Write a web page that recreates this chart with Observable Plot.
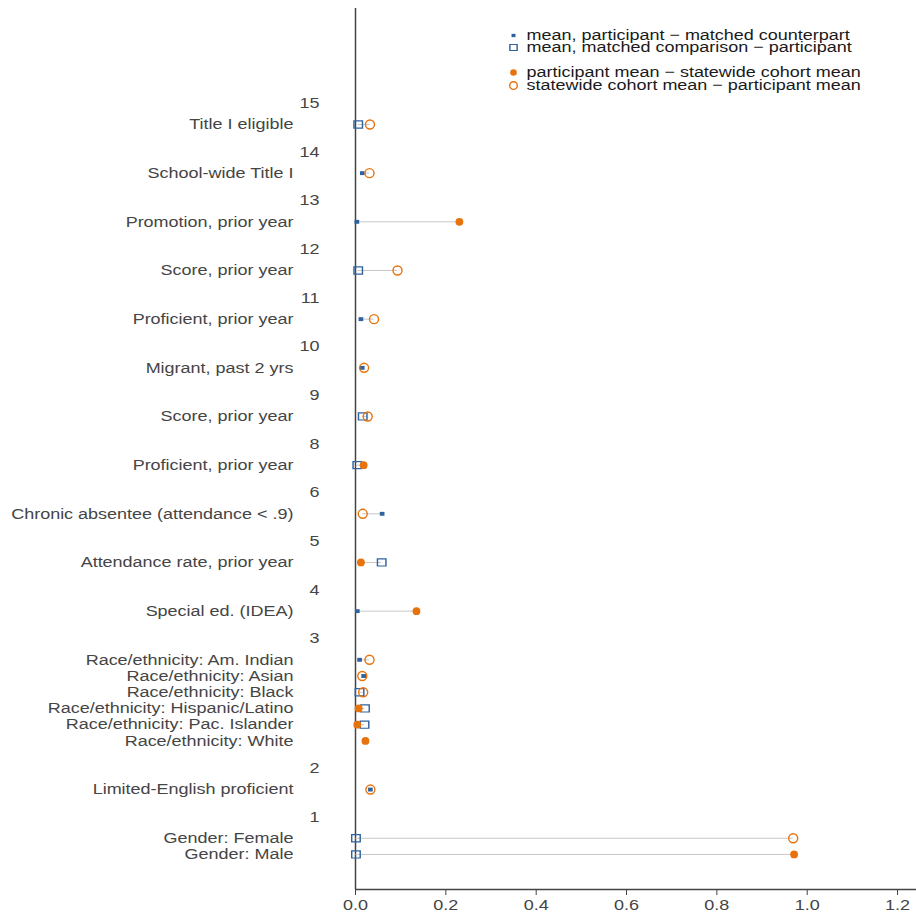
<!DOCTYPE html>
<html>
<head>
<meta charset="utf-8">
<script src="https://cdn.jsdelivr.net/npm/d3@7"></script>
<script src="https://cdn.jsdelivr.net/npm/@observablehq/plot@0.6"></script>
<style>
  body { margin: 0; background: #fff; }
</style>
</head>
<body>
<div id="chart"></div>
<script>
// Covariate groups, top to bottom
const groupIds = [15, 14, 13, 12, 11, 10, 9, 8, 6, 5, 4, 3, 2, 1];

// One entry per covariate row
const rowLabels = [
  "Title I eligible",
  "School-wide Title I",
  "Promotion, prior year",
  "Score, prior year",
  "Proficient, prior year",
  "Migrant, past 2 yrs",
  "Score, prior year",
  "Proficient, prior year",
  "Chronic absentee (attendance < .9)",
  "Attendance rate, prior year",
  "Special ed. (IDEA)",
  "Race/ethnicity: Am. Indian",
  "Race/ethnicity: Asian",
  "Race/ethnicity: Black",
  "Race/ethnicity: Hispanic/Latino",
  "Race/ethnicity: Pac. Islander",
  "Race/ethnicity: White",
  "Limited-English proficient",
  "Gender: Female",
  "Gender: Male"
];
const rowGroup = [15, 14, 13, 12, 11, 10, 9, 8, 6, 5, 4, 3, 3, 3, 3, 3, 3, 2, 1, 1];

// participant mean − matched counterpart mean (sign picks the marker)
const matchedDiff = [
  -0.006, 0.015, 0.003, -0.006, 0.012, 0.015, -0.016, -0.004, 0.059, -0.058, 0.004,
  0.009, 0.018, -0.009, -0.021, -0.020, null,
  0.033, -0.001, -0.001
];
// participant mean − statewide cohort mean
const statewideDiff = [
  -0.032, -0.031, 0.230, -0.093, -0.041, -0.019, -0.027, 0.018, -0.016, 0.012, 0.135,
  -0.031, -0.015, -0.017, 0.007, 0.004, 0.022,
  -0.033, -0.969, 0.971
];

const xTicks = [0, 0.2, 0.4, 0.6, 0.8, 1.0, 1.2];

const legendLabels = [
  "mean, participant \u2212 matched counterpart",
  "mean, matched comparison \u2212 participant",
  "participant mean \u2212 statewide cohort mean",
  "statewide cohort mean \u2212 participant mean"
];

// ---- layout of rows: each group = header slot, its items, one blank slot
const rows = [];
const headers = [];
let slot = 0;
for (const g of groupIds) {
  headers.push({id: String(g), idx: slot});
  slot += 1;
  rowLabels.forEach((label, i) => {
    if (rowGroup[i] !== g) return;
    rows.push({label, idx: slot, m: matchedDiff[i], s: statewideDiff[i]});
    slot += 1;
  });
  slot += 1;
}

const blue = "#2f63a0";
const orange = "#e8720c";
const ink = "#454545";

const markerStyle = {
  matchedPos: {symbol: "square", fill: blue, r: 2.2},
  matchedNeg: {symbol: "square", fill: "none", stroke: blue, strokeWidth: 1.2, r: 4.0},
  statePos:   {symbol: "circle", fill: orange, r: 3.9},
  stateNeg:   {symbol: "circle", fill: "none", stroke: orange, strokeWidth: 1.4, r: 4.5}
};
const legendKeys = ["matchedPos", "matchedNeg", "statePos", "stateNeg"];
const legendOffsets = [27, 39, 64, 77];

const abs = v => v == null ? null : Math.abs(v);

const legendMarks = legendKeys.flatMap((k, i) => [
  Plot.dot([0], {frameAnchor: "top-left", dx: 158, dy: legendOffsets[i], ...markerStyle[k],
    r: markerStyle[k].r * 0.85}),
  Plot.text([legendLabels[i]], {
    frameAnchor: "top-left", dx: 171, dy: legendOffsets[i], lineAnchor: "middle",
    textAnchor: "start", fontSize: 15, fill: "#1a1a1a"
  })
]);

const yMin = -6.15, yMax = 48.16;

const chart = Plot.plot({
  width: 916,
  height: 916,
  marginLeft: 355,
  marginRight: 0,
  marginTop: 8,
  marginBottom: 27,
  style: {fontFamily: "'Liberation Sans', Arial, sans-serif", background: "white", color: "#444"},
  x: {domain: [0, 1.242], axis: null},
  y: {domain: [yMin, yMax], reverse: true, axis: null},
  marks: [
    Plot.axisX({ticks: xTicks, tickFormat: d3.format(".1f"), tickSize: 6, tickPadding: 4, fontSize: 15}),
    Plot.ruleY([yMax], {stroke: "#444", strokeWidth: 1.5}),
    Plot.ruleX([0], {stroke: "#444", strokeWidth: 1.5}),
    // connectors between the two comparisons
    Plot.ruleY(rows.filter(d => d.m != null && d.s != null), {
      y: "idx", x1: d => abs(d.m), x2: d => abs(d.s), stroke: "#c8c8c8", strokeWidth: 1
    }),
    Plot.dot(rows.filter(d => d.m != null && d.m >= 0), {x: d => abs(d.m), y: "idx", ...markerStyle.matchedPos}),
    Plot.dot(rows.filter(d => d.m != null && d.m < 0), {x: d => abs(d.m), y: "idx", ...markerStyle.matchedNeg}),
    Plot.dot(rows.filter(d => d.s >= 0), {x: d => abs(d.s), y: "idx", ...markerStyle.statePos}),
    Plot.dot(rows.filter(d => d.s < 0), {x: d => abs(d.s), y: "idx", ...markerStyle.stateNeg}),
    // row labels and group numbers
    Plot.text(rows, {y: "idx", text: "label", frameAnchor: "left", dx: -62, textAnchor: "end", fontSize: 15, fill: ink}),
    Plot.text(headers, {y: "idx", text: "id", frameAnchor: "left", dx: -36, dy: -5, textAnchor: "end", fontSize: 15, fill: ink}),
    ...legendMarks
  ]
});

// The figure uses a horizontally widened type and symbols: each text and
// dot symbol is placed by a translate(), so a trailing scale widens it
// about its own anchor point.
const stretch = 1.2;
chart.querySelectorAll("text").forEach(t => {
  const tr = t.getAttribute("transform") || "";
  t.setAttribute("transform", `${tr} scale(${stretch},1)`);
});
chart.querySelectorAll("g[aria-label='dot'] path").forEach(p => {
  const tr = p.getAttribute("transform") || "";
  p.setAttribute("transform", `${tr} scale(${stretch},1)`);
});

document.getElementById("chart").append(chart);
</script>
</body>
</html>
